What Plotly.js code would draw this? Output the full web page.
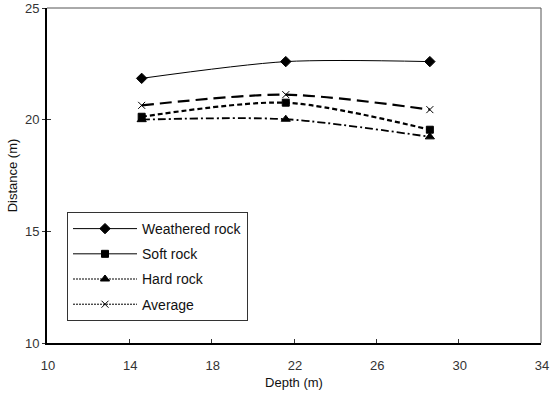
<!DOCTYPE html>
<html><head><meta charset="utf-8">
<script src="https://cdn.plot.ly/plotly-3.0.1.min.js"></script>
<style>html,body{margin:0;padding:0;background:#fff}#chart{width:550px;height:397px}</style>
</head><body><div id="chart"></div>
<script>
const depth = [14.6, 21.6, 28.6];
const weathered = [21.85, 22.6, 22.6];
const softRock = [20.13, 20.76, 19.55];
const hardRock = [20.0, 20.02, 19.23];
const average = [20.64, 21.12, 20.45];
const xTicks = [10, 14, 18, 22, 26, 30, 34];
const yTicks = [10, 15, 20, 25];

const series = [
  {name: 'Weathered rock', y: weathered, symbol: 'diamond', dash: 'solid', width: 1, legDash: 'solid', size: 8},
  {name: 'Soft rock', y: softRock, symbol: 'square', dash: '5px,3px', width: 2.2, legDash: 'solid', size: 7},
  {name: 'Hard rock', y: hardRock, symbol: 'triangle-up', dash: '8px,3px,2px,3px', width: 1.8, legDash: '2px,1px', size: 8},
  {name: 'Average', y: average, symbol: 'x-thin', dash: '12px,6px', width: 2.2, legDash: '2px,1px', size: 7}
];

const traces = [];
series.forEach(s => {
  traces.push({
    x: depth, y: s.y, type: 'scatter', mode: 'lines+markers', name: s.name,
    showlegend: false,
    line: {color: '#000', width: s.width, dash: s.dash, shape: 'spline', smoothing: 0.8},
    marker: {symbol: s.symbol, size: s.size, color: '#000', line: {color: '#000', width: 1}}
  });
});
series.forEach((s, i) => {
  traces.push({
    x: [null], y: [null], type: 'scatter', mode: 'lines+markers', name: s.name,
    legendgroup: 'g' + i,
    line: {color: '#000', width: 1, dash: s.legDash},
    marker: {symbol: s.symbol, size: s.size, color: '#000', line: {color: '#000', width: 1}}
  });
});
// overlay axis to draw the inner half of the crossing y ticks
traces.push({x: [null], y: [null], yaxis: 'y2', showlegend: false, hoverinfo: 'skip', type: 'scatter'});

const layout = {
  width: 550, height: 397,
  margin: {l: 47, r: 9, t: 8, b: 54},
  paper_bgcolor: '#fff', plot_bgcolor: '#fff',
  font: {family: 'Liberation Sans, Arial, sans-serif', size: 13, color: '#222'},
  showlegend: true,
  legend: {
    x: 0.0405, y: 0.391, xanchor: 'left', yanchor: 'top',
    bordercolor: '#333', borderwidth: 1, bgcolor: '#fff',
    font: {size: 14, color: '#111'}, itemwidth: 64,
    traceorder: 'grouped', tracegroupgap: 4
  },
  xaxis: {
    range: [10, 34], tickvals: xTicks, ticktext: xTicks.map(String),
    ticks: 'inside', ticklen: 4, tickcolor: '#333', showgrid: false, zeroline: false,
    showline: true, linecolor: '#000', linewidth: 2, mirror: false,
    ticklabelstandoff: 9, ticklabelshift: 1, ticklabeloverflow: 'allow',
    title: {text: 'Depth (m)', font: {size: 13, color: '#111'}, standoff: 6},
    tickfont: {size: 13, color: '#333'}
  },
  yaxis: {
    range: [10, 25], tickvals: yTicks, ticktext: yTicks.map(String),
    ticks: 'outside', ticklen: 3, tickcolor: '#333', showgrid: false, zeroline: false,
    showline: true, linecolor: '#000', linewidth: 2,
    title: {text: 'Distance (m)', font: {size: 13, color: '#111'}, standoff: 4},
    tickfont: {size: 13, color: '#333'}
  },
  yaxis2: {
    overlaying: 'y', matches: 'y', side: 'left', range: [10, 25], tickvals: yTicks,
    ticks: 'inside', ticklen: 4, tickcolor: '#333', showticklabels: false,
    showgrid: false, zeroline: false, showline: false
  },
  shapes: [
    {type: 'line', xref: 'paper', yref: 'paper', x0: 0, x1: 1, y0: 1, y1: 1, line: {color: '#555', width: 1}},
    {type: 'line', xref: 'paper', yref: 'paper', x0: 1, x1: 1, y0: 0, y1: 1, line: {color: '#555', width: 1}}
  ]
};

Plotly.newPlot('chart', traces, layout, {displayModeBar: false, staticPlot: true});
</script></body></html>
